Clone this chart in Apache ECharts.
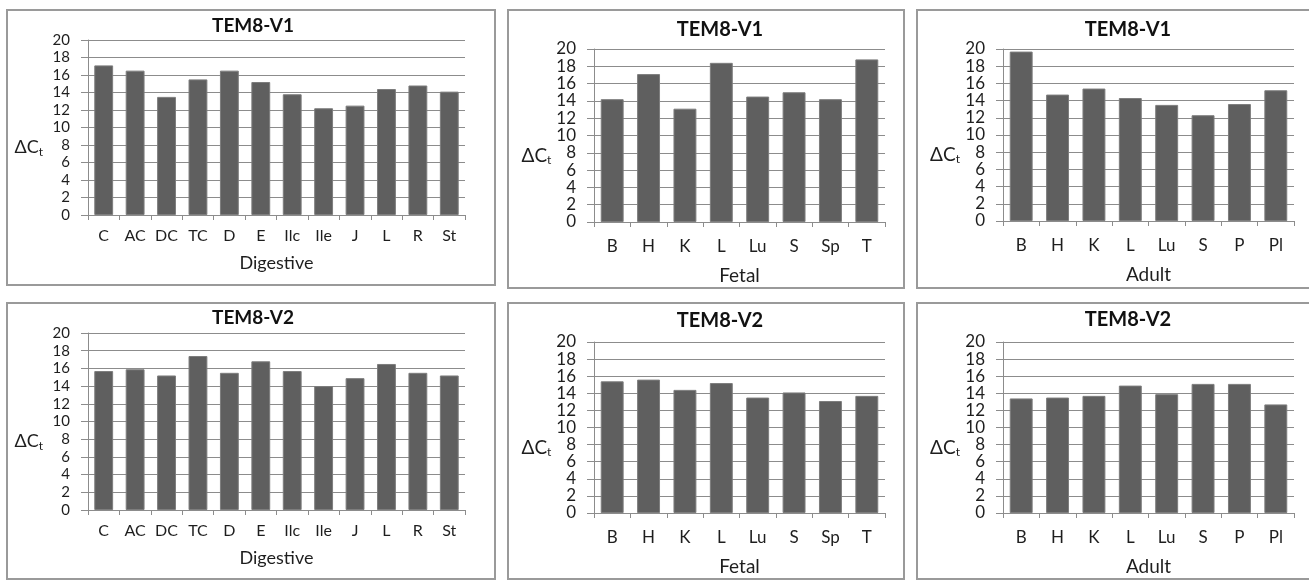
<!DOCTYPE html>
<html>
<head>
<meta charset="utf-8">
<script src="https://cdn.jsdelivr.net/npm/echarts@6/dist/echarts.min.js"></script>
<style>
html,body{margin:0;padding:0;background:#fff;}
#chart{width:1309px;height:580px;}
</style>
</head>
<body>
<div id="chart"></div>
<script>
// ---- data ----
const digestiveCats = ['C','AC','DC','TC','D','E','Ilc','Ile','J','L','R','St'];
const fetalCats = ['B','H','K','L','Lu','S','Sp','T'];
const adultCats = ['B','H','K','L','Lu','S','P','Pl'];
const digestiveV1 = [17.1,16.5,13.5,15.5,16.5,15.2,13.8,12.2,12.5,14.4,14.8,14.1];
const digestiveV2 = [15.7,15.9,15.2,17.4,15.5,16.8,15.7,14.0,14.9,16.5,15.5,15.2];
const fetalV1 = [14.2,17.1,13.1,18.4,14.5,15.0,14.2,18.8];
const fetalV2 = [15.4,15.6,14.4,15.2,13.5,14.1,13.1,13.7];
const adultV1 = [19.7,14.7,15.4,14.3,13.5,12.3,13.6,15.2];
const adultV2 = [13.4,13.5,13.7,14.9,13.9,15.1,15.1,12.7];
const panelTitles = ['TEM8-V1','TEM8-V1','TEM8-V1','TEM8-V2','TEM8-V2','TEM8-V2'];
const groupNames = ['Digestive','Fetal','Adult','Digestive','Fetal','Adult'];
const yMin = 0, yMax = 20, yStep = 2;

const FONT = 'Lato, "Open Sans", sans-serif';
const panels = [
  {cats: digestiveCats, vals: digestiveV1, grid:{left:88,top:40,width:377,height:175}, box:[7,10,488,275], tx:253, ty:28, yl:15, xl:16, nm:18, tf:19, xg:39, yg:45, xm:13},
  {cats: fetalCats, vals: fetalV1, grid:{left:594,top:49,width:291,height:173}, box:[508,10,396,278], tx:720, ty:32, yl:17, xl:17, nm:19, tf:20, xg:44, yg:42, xm:16},
  {cats: adultCats, vals: adultV1, grid:{left:1003,top:49,width:291,height:172}, box:[917,10,400,278], tx:1128, ty:32, yl:17, xl:17, nm:19, tf:20, xg:44, yg:43, xm:16},
  {cats: digestiveCats, vals: digestiveV2, grid:{left:88,top:333,width:377,height:177}, box:[7,303,488,276], tx:253, ty:320, yl:15, xl:16, nm:18, tf:19, xg:39, yg:45, xm:13},
  {cats: fetalCats, vals: fetalV2, grid:{left:594,top:342,width:291,height:171}, box:[508,303,396,276], tx:720, ty:323, yl:17, xl:17, nm:19, tf:20, xg:44, yg:42, xm:16},
  {cats: adultCats, vals: adultV2, grid:{left:1003,top:342,width:291,height:171}, box:[917,303,400,276], tx:1128, ty:322, yl:17, xl:17, nm:19, tf:20, xg:44, yg:43, xm:16}
];

const AX = '#8c8c8c';
const TXT = '#1e1e1e';
const option = {
  animation:false,
  backgroundColor:'#fff',
  title:[], grid:[], xAxis:[], yAxis:[], series:[], graphic:[]
};
panels.forEach((p,i)=>{
  option.graphic.push({type:'rect', shape:{x:p.box[0],y:p.box[1],width:p.box[2],height:p.box[3]}, style:{fill:'none',stroke:'#9a9a9a',lineWidth:2}, z:-1});
  option.title.push({text:panelTitles[i], left:p.tx, top:p.ty - p.tf*0.6, textAlign:'center', padding:0,
    textStyle:{fontFamily:FONT, fontWeight:'bold', fontSize:p.tf, color:'#111'}});
  option.grid.push(Object.assign({containLabel:false}, p.grid));
  option.xAxis.push({type:'category', gridIndex:i, data:p.cats,
    name:groupNames[i], nameLocation:'middle', nameGap:p.xg,
    nameTextStyle:{fontFamily:FONT, fontSize:p.nm, color:TXT},
    axisLine:{lineStyle:{color:AX,width:1}},
    axisTick:{show:true, alignWithLabel:false, length:5, lineStyle:{color:AX}},
    axisLabel:{fontFamily:FONT, fontSize:p.xl, color:TXT, margin:p.xm, interval:0}
  });
  option.yAxis.push({type:'value', gridIndex:i, min:yMin, max:yMax, interval:yStep,
    name:'{a|ΔC}{b|t}', nameLocation:'middle', nameRotate:0, nameGap:p.yg,
    nameTextStyle:{padding:[40,0,0,0], rich:{
      a:{fontFamily:FONT, fontSize:p.nm, color:TXT},
      b:{fontFamily:FONT, fontSize:Math.round(p.nm*0.65), color:TXT, padding:[9,0,0,0]}
    }},
    axisLine:{show:true, lineStyle:{color:AX,width:1}},
    axisTick:{show:true, length:7, lineStyle:{color:AX}},
    splitLine:{show:true, lineStyle:{color:AX,width:1}},
    axisLabel:{fontFamily:FONT, fontSize:p.yl, color:TXT, margin:18}
  });
  option.series.push({type:'bar', xAxisIndex:i, yAxisIndex:i, data:p.vals,
    barCategoryGap: i%3===0 ? '40%' : '37%',
    itemStyle:{color:'#5f5f5f', borderColor:'#7d7d7d', borderWidth:1}});
});
const chart = echarts.init(document.getElementById('chart'), null, {renderer:'canvas'});
chart.setOption(option);
</script>
</body>
</html>
